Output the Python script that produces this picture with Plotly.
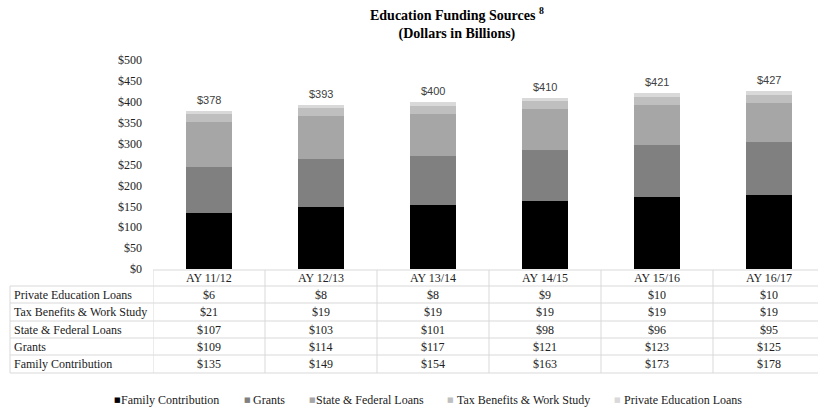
import plotly.graph_objects as go

years = ["AY 11/12", "AY 12/13", "AY 13/14", "AY 14/15", "AY 15/16", "AY 16/17"]
family = [135, 149, 154, 163, 173, 178]
grants = [109, 114, 117, 121, 123, 125]
state_fed = [107, 103, 101, 98, 96, 95]
tax_work = [21, 19, 19, 19, 19, 19]
private_loans = [6, 8, 8, 9, 10, 10]
totals = [378, 393, 400, 410, 421, 427]

series_names = ["Family Contribution", "Grants", "State & Federal Loans",
                "Tax Benefits & Work Study", "Private Education Loans"]
series_values = [family, grants, state_fed, tax_work, private_loans]
series_colors = ["#000000", "#808080", "#a6a6a6", "#bfbfbf", "#d9d9d9"]

W, H = 818, 412
L, T, B = 153, 60, 269  # plot area pixel bounds
R = W
SERIF = "Liberation Serif, Times New Roman, serif"
TXT = "#222222"
GRID = "#d9d9d9"
FS = 12

def py(p):  # pixel y -> paper y
    return (B - p) / (B - T)

def px(p):  # pixel x -> paper x
    return (p - L) / (R - L)

fig = go.Figure()
idx = list(range(len(years)))
for name, vals, col in zip(series_names, series_values, series_colors):
    fig.add_trace(go.Bar(x=idx, y=vals, name=name, marker=dict(color=col, line=dict(width=0)),
                         width=0.41, hoverinfo="y+name", showlegend=False))

annotations = []
# title
annotations.append(dict(x=px(457), y=py(3), xref="paper", yref="paper", xanchor="center", yanchor="top",
                        text="<b>Education Funding Sources <sup>8</sup></b><br><b>(Dollars in Billions)</b>",
                        showarrow=False, align="center",
                        font=dict(family=SERIF, size=14, color="#000000")))
# totals
for i, t in enumerate(totals):
    annotations.append(dict(x=i, y=t, xref="x", yref="y", text=f"${t}", showarrow=False,
                            xanchor="center", yanchor="bottom", yshift=3,
                            font=dict(family="Liberation Sans, Arial, sans-serif", size=11, color="#404040")))

# table
row_lines = [286, 303, 321, 338, 355, 373]
header_c = (270 + 286) / 2
for i, y in enumerate(years):
    annotations.append(dict(x=i, y=py(header_c), xref="x", yref="paper", text=y, showarrow=False,
                            xanchor="center", yanchor="middle",
                            font=dict(family=SERIF, size=FS, color=TXT)))
rows = list(zip(series_names, series_values))[::-1]
for r, (name, vals) in enumerate(rows):
    c = (row_lines[r] + row_lines[r + 1]) / 2
    annotations.append(dict(x=px(12), y=py(c), xref="paper", yref="paper", text=name, showarrow=False,
                            xanchor="left", yanchor="middle", font=dict(family=SERIF, size=FS, color=TXT)))
    for i, v in enumerate(vals):
        annotations.append(dict(x=i, y=py(c), xref="x", yref="paper", text=f"${v}", showarrow=False,
                                xanchor="center", yanchor="middle",
                                font=dict(family=SERIF, size=FS, color=TXT)))

# manual legend
leg_sq = [113, 243, 308, 446, 613]
leg_tx = [120, 252, 315, 456, 623]
leg_y = 400
for name, col, sx, tx in zip(series_names, series_colors, leg_sq, leg_tx):
    annotations.append(dict(x=px(sx - 1), y=py(leg_y), xref="paper", yref="paper", text="■",
                            showarrow=False, xanchor="left", yanchor="middle",
                            font=dict(family="DejaVu Sans", size=7, color=col)))
    annotations.append(dict(x=px(tx - 1), y=py(leg_y), xref="paper", yref="paper", text=name,
                            showarrow=False, xanchor="left", yanchor="middle",
                            font=dict(family=SERIF, size=FS, color=TXT)))

shapes = []
shapes.append(dict(type="line", xref="paper", yref="paper", x0=0, x1=1, y0=py(270), y1=py(270),
                   line=dict(color=GRID, width=1)))
for p in row_lines:
    shapes.append(dict(type="line", xref="paper", yref="paper", x0=px(10), x1=1, y0=py(p), y1=py(p),
                       line=dict(color=GRID, width=1)))
for k in range(len(years) + 1):
    shapes.append(dict(type="line", xref="x", yref="paper", x0=k - 0.5, x1=k - 0.5,
                       y0=py(270), y1=py(373), line=dict(color=GRID, width=1)))
shapes.append(dict(type="line", xref="paper", yref="paper", x0=px(10), x1=px(10),
                   y0=py(286), y1=py(373), line=dict(color=GRID, width=1)))

fig.update_layout(
    width=W, height=H,
    margin=dict(l=L, r=0, t=T, b=H - B, autoexpand=False),
    barmode="stack",
    plot_bgcolor="white", paper_bgcolor="white",
    xaxis=dict(range=[-0.5, 5.4375], showticklabels=False, showgrid=False, zeroline=False,
               showline=False, fixedrange=True),
    yaxis=dict(range=[0, 500], dtick=50, tickprefix="$", showgrid=False, zeroline=False,
               showline=False, ticklabelstandoff=10,
               tickfont=dict(family=SERIF, size=FS, color=TXT)),
    annotations=annotations,
    shapes=shapes,
    showlegend=False,
)

fig.write_html("out.html", config={"displayModeBar": False},
               post_script="document.body.style.margin='0';")
